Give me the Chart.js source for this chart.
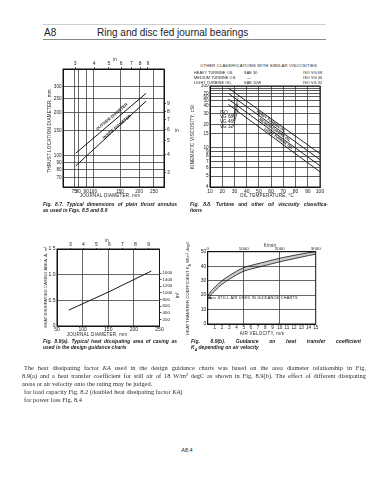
<!DOCTYPE html>
<html>
<head>
<meta charset="utf-8">
<script src="https://cdn.jsdelivr.net/npm/chart.js@4.4.1/dist/chart.umd.min.js"></script>
<style>
  html, body { margin: 0; padding: 0; background: #fff; }
  body { position: relative; width: 373px; height: 480px; overflow: hidden;
         font-family: "Liberation Sans", Arial, sans-serif; color: #222; }
  canvas { position: absolute; }
  .t { position: absolute; white-space: nowrap; line-height: 1; }
  .c { transform: translate(-50%, -50%); }
  .v { transform: translate(-50%, -50%) rotate(-90deg); }
  .m { transform: translateY(-50%); }
  .ttl { font-size: 4.5px; letter-spacing: 0.25px; }
  .hd { font-size: 3.8px; letter-spacing: 0.1px; }
  .cap { position: absolute; white-space: nowrap; font-weight: bold; font-style: italic;
         font-size: 5px; line-height: 1; }
  .j { text-align: justify; text-align-last: justify; }
  .body { position: absolute; white-space: nowrap; font-family: "Liberation Serif", serif;
          font-size: 6.4px; line-height: 1; color: #2e2e2e; }
  .rule { position: absolute; height: 1px; }
</style>
</head>
<body>

<div class="rule" style="left:43px;top:24px;width:283px;background:#cfcfcf"></div>
<div class="t m" style="left:44px;top:33px;font-size:10px">A8</div>
<div class="t m" style="left:97px;top:33px;font-size:10px">Ring and disc fed journal bearings</div>
<div class="rule" style="left:43px;top:39px;width:283px;background:#8a8a8a"></div>

<!-- Fig 8.7 -->
<canvas id="c1" width="124" height="137" style="left:48px;top:58px"></canvas>
<div class="t c ttl" style="left:115px;top:59.5px">in</div>
<div class="t c ttl" style="left:177px;top:131px">in</div>
<div class="t v ttl" style="left:50px;top:131px">THRUST LOCATION DIAMETER, mm</div>
<div class="t c ttl" style="left:110px;top:196px">JOURNAL DIAMETER, mm</div>
<div class="t c" style="left:112px;top:117px;font-size:4px;font-weight:bold;transform:translate(-50%,-50%) rotate(-40deg)">OUTSIDE DIAMETER</div>
<div class="t c" style="left:117px;top:127px;font-size:4px;font-weight:bold;transform:translate(-50%,-50%) rotate(-40deg)">INSIDE DIAMETER</div>
<div class="cap j" style="left:43px;top:201.5px;width:134px">Fig. 8.7. Typical dimensions of plain thrust annulus</div>
<div class="cap" style="left:43px;top:207.5px">as used in Figs. 8.5 and 8.6</div>

<!-- Fig 8.8 -->
<div class="t c" style="left:258.5px;top:66px;font-size:4.1px;letter-spacing:0.2px">OTHER CLASSIFICATIONS WITH SIMILAR VISCOSITIES</div>
<div class="t m hd" style="left:194px;top:74px">HEAVY TURBINE OIL</div>
<div class="t m hd" style="left:244px;top:74px">SAE 30</div>
<div class="t m hd" style="left:303px;top:74px">ISO VG 68</div>
<div class="t m hd" style="left:194px;top:79px">MEDIUM TURBINE OIL</div>
<div class="t m hd" style="left:247px;top:79px">—</div>
<div class="t m hd" style="left:303px;top:79px">ISO VG 46</div>
<div class="t m hd" style="left:194px;top:83.7px">LIGHT TURBINE OIL</div>
<div class="t m hd" style="left:244px;top:83.7px">SAE 10W</div>
<div class="t m hd" style="left:303px;top:83.7px">ISO VG 32</div>
<canvas id="c2" width="131" height="111" style="left:195px;top:84px"></canvas>
<div class="t m" style="left:220px;top:112.7px;font-size:4.6px">ISO</div>
<div class="t m" style="left:220px;top:117.3px;font-size:4.6px">VG 68</div>
<div class="t m" style="left:220px;top:122px;font-size:4.6px">VG 46</div>
<div class="t m" style="left:220px;top:126.7px;font-size:4.6px">VG 32</div>
<div class="t v ttl" style="left:193px;top:137px">KINEMATIC VISCOSITY, cSt</div>
<div class="t c ttl" style="left:267px;top:196px">OIL TEMPERATURE, °C</div>
<div class="cap j" style="left:190px;top:201.5px;width:138px">Fig. 8.8. Turbine and other oil viscosity classifica-</div>
<div class="cap" style="left:190px;top:207.5px">tions</div>

<!-- Fig 8.9(a) -->
<canvas id="c3" width="150" height="95" style="left:32px;top:240px"></canvas>
<div class="t c ttl" style="left:107px;top:241px">in</div>
<div class="t v ttl" style="left:178px;top:295px">in²</div>
<div class="t v" style="left:46px;top:287px;font-size:4px;letter-spacing:0.15px">HEAT DISSIPATING CASING AREA, A, m²</div>
<div class="t c ttl" style="left:97px;top:334.5px">JOURNAL DIAMETER, mm</div>
<div class="cap j" style="left:43px;top:338.5px;width:134px">Fig. 8.9(a). Typical heat dissipating area of casing as</div>
<div class="cap" style="left:43px;top:344.5px">used in the design guidance charts</div>

<!-- Fig 8.9(b) -->
<canvas id="c4" width="129" height="90" style="left:196px;top:244px"></canvas>
<div class="t c ttl" style="left:270px;top:245.5px">ft/min</div>
<div class="t v" style="left:189px;top:288px;font-size:4px;letter-spacing:0.15px">HEAT TRANSFER COEFFICIENT K<sub style="font-size:3px">A</sub> W/m² degC</div>
<div class="t c ttl" style="left:262px;top:333.5px">AIR VELOCITY, m/s</div>
<div class="cap j" style="left:191px;top:338.5px;width:170px">Fig. 8.9(b). Guidance on heat transfer coefficient</div>
<div class="cap" style="left:191px;top:344.5px">K<sub style="font-size:3.5px">A</sub> depending on air velocity</div>

<!-- text -->
<div class="body j" style="left:24px;top:365px;width:342px">The heat dissipating factor <i>KA</i> used in the design guidance charts was based on the area diameter relationship in Fig.</div>
<div class="body j" style="left:22px;top:373px;width:344px">8.9(a) and a heat transfer coefficient for still air of 18 W/m² degC as shown in Fig. 8.9(b). The effect of different dissipating</div>
<div class="body" style="left:22px;top:381px">areas or air velocity onto the rating may be judged.</div>
<div class="body" style="left:24px;top:389px">for load capacity Fig. 8.2 (doubled heat dissipating factor <i>KA</i>)</div>
<div class="body" style="left:24px;top:397px">for power loss Fig. 8.4</div>

<div class="t c" style="left:187px;top:451px;font-size:5.5px">A8.4</div>

<script>
// Fig. 8.7 - thrust annulus diameters against journal diameter (mm)
const f87Journal = [77, 222];
const f87Outside = [104, 271];
const f87Inside = [85, 239];
const f87XTicks = [75, 80, 90, 100, 150, 200, 250];
const f87YTicks = [70, 80, 90, 100, 150, 200, 250, 300];
const inchTicks = [3, 4, 5, 6, 7, 8, 9];

// Fig. 8.8 - viscosity grade lines (cSt) against oil temperature (degC)
const visTempTicks = [10, 20, 30, 40, 50, 60, 70, 80, 90, 100];
const visTicks = [4, 5, 6, 7, 8, 9, 10, 15, 20, 30, 40, 50, 60, 70, 80, 90, 100];
const visLabels = ['4', '5', '6', '7', '8', '9', '10', '15', '20', '30', '40', '50', '60', '70', '', '', '100'];
const gradeStartTemp = 25;
const gradeEndTemp = 100;
const gradeStartVisc = [90, 70, 54, 43];
const gradeEndVisc = [8.5, 7.3, 6.3, 5.5];
const bandNames = ['HEAVY TURBINE OIL', 'MEDIUM TURBINE OIL', 'LIGHT TURBINE OIL'];
const bandTextTemp = [60, 63, 66];
const leaderVisc = [26.5, 22.4, 18.9];

// Fig. 8.9(a) - casing area (m2) against journal diameter (mm)
const f89aJournal = [73, 150, 234];
const f89aArea = [0.31, 0.66, 1.07];
const f89aXTicks = [50, 100, 150, 200, 250];
const areaTicks = [0, 0.5, 1.0, 1.5];
const sqInTicks = [200, 400, 600, 800, 1000, 1200, 1400, 1600];

// Fig. 8.9(b) - heat transfer coefficient band against air velocity (m/s)
const airVel = [0, 0.5, 1, 2, 3, 4, 5, 6, 8, 10, 12, 14, 15];
const kUpper = [19.5, 23, 25.5, 30, 33.5, 36.5, 39, 40.5, 43, 45.5, 47.5, 49.3, 50];
const kLower = [17, 20.5, 23, 27.5, 31, 34, 36.5, 38, 40.5, 43, 45.2, 47.3, 48.3];
const velTicks = [1, 2, 3, 4, 5, 6, 7, 8, 9, 10, 11, 12, 13, 14, 15];
const ftMinTicks = [0, 1000, 2000, 3000];
const kTicks = [0, 10, 20, 30, 40, 50];
const stillAirK = 18;

Chart.defaults.font.family = '"Liberation Sans", Arial, sans-serif';
Chart.defaults.font.size = 5;
Chart.defaults.color = '#222';

const ink = '#151515';
const gridInk = '#404040';

// ASTM style viscosity axis
const T = v => Math.log10(Math.log10(v + 0.7));
const plain = v => String(v);

function fit(size) {
  return s => {
    if (s.isHorizontal()) s.height = size; else s.width = size;
    s.paddingLeft = s.paddingRight = s.paddingTop = s.paddingBottom = 0;
  };
}
function fixedTicks(values) {
  return s => { s.ticks = values.map(v => ({ value: v })); };
}
function mainGrid(color) {
  return { color: color || gridInk, lineWidth: 0.8, drawTicks: false };
}
function sideGrid(len) {
  return { drawOnChartArea: false, drawTicks: len > 0, tickLength: len, color: ink, lineWidth: 0.7 };
}
const border = { display: true, color: ink, width: 1 };
function tk(extra) {
  return Object.assign({ padding: 1.5, autoSkip: false, maxRotation: 0, minRotation: 0, callback: plain }, extra || {});
}

const frame = {
  id: 'frame',
  beforeDatasetsDraw(chart) {
    const a = chart.chartArea, c = chart.ctx;
    c.save();
    c.strokeStyle = ink;
    c.lineWidth = 1;
    c.strokeRect(a.left, a.top, a.right - a.left, a.bottom - a.top);
    c.restore();
  }
};

function common(padding) {
  return {
    responsive: false,
    animation: false,
    events: [],
    layout: { autoPadding: false, padding: padding || 0 },
    plugins: { legend: { display: false }, tooltip: { enabled: false } },
    elements: { point: { radius: 0 }, line: { borderWidth: 1, borderColor: ink } }
  };
}

// ---------- Fig. 8.7
new Chart(document.getElementById('c1'), {
  type: 'line',
  data: {
    datasets: [
      { data: f87Journal.map((x, i) => ({ x, y: f87Outside[i] })), borderColor: ink },
      { data: f87Journal.map((x, i) => ({ x, y: f87Inside[i] })), borderColor: ink }
    ]
  },
  options: Object.assign(common(), {
    scales: {
      x: { type: 'logarithmic', position: 'bottom', min: 63.5, max: 291,
           afterBuildTicks: fixedTicks(f87XTicks), afterFit: fit(8),
           ticks: tk({ font: { size: 4.6 } }), grid: mainGrid(), border },
      xin: { type: 'logarithmic', position: 'top', min: 63.5 / 25.4, max: 291 / 25.4,
             afterBuildTicks: fixedTicks(inchTicks), afterFit: fit(11),
             ticks: tk({ padding: 0 }), grid: sideGrid(2), border },
      y: { type: 'logarithmic', position: 'left', min: 60.6, max: 400,
           afterBuildTicks: fixedTicks(f87YTicks), afterFit: fit(15),
           ticks: tk({ font: { size: 4.6 } }), grid: mainGrid(), border },
      yin: { type: 'logarithmic', position: 'right', min: 60.6 / 25.4, max: 400 / 25.4,
             afterBuildTicks: fixedTicks(inchTicks), afterFit: fit(8),
             ticks: tk({ padding: 1 }), grid: sideGrid(2), border }
    }
  }),
  plugins: [frame]
});

// ---------- Fig. 8.8
const gradeAt = (i, t) => {
  const f = (t - gradeStartTemp) / (gradeEndTemp - gradeStartTemp);
  return T(gradeStartVisc[i]) + f * (T(gradeEndVisc[i]) - T(gradeStartVisc[i]));
};
const f88Notes = {
  id: 'f88Notes',
  afterDatasetsDraw(chart) {
    const { ctx, scales: { x, y } } = chart;
    const ang = Math.atan2(
      y.getPixelForValue(gradeAt(0, gradeEndTemp)) - y.getPixelForValue(gradeAt(0, gradeStartTemp)),
      x.getPixelForValue(gradeEndTemp) - x.getPixelForValue(gradeStartTemp));
    ctx.save();
    ctx.fillStyle = ink;
    ctx.font = 'bold 3.5px "Liberation Sans"';
    ctx.textAlign = 'center';
    ctx.textBaseline = 'middle';
    bandNames.forEach((name, i) => {
      const t = bandTextTemp[i];
      const px = x.getPixelForValue(t);
      const py = (y.getPixelForValue(gradeAt(i, t)) + y.getPixelForValue(gradeAt(i + 1, t))) / 2;
      ctx.save();
      ctx.translate(px, py);
      ctx.rotate(ang);
      ctx.fillText(name, 0, 0);
      ctx.restore();
    });
    ctx.strokeStyle = ink;
    ctx.lineWidth = 0.6;
    leaderVisc.forEach((v, i) => {
      const to = 33;
      const mid = (gradeAt(i, to) + gradeAt(i + 1, to)) / 2;
      ctx.beginPath();
      ctx.moveTo(x.getPixelForValue(29), y.getPixelForValue(T(v)));
      ctx.lineTo(x.getPixelForValue(to), y.getPixelForValue(mid));
      ctx.stroke();
    });
    ctx.restore();
  }
};
new Chart(document.getElementById('c2'), {
  type: 'line',
  data: {
    datasets: gradeStartVisc.map((v0, i) => ({
      data: [{ x: gradeStartTemp, y: T(v0) }, { x: gradeEndTemp, y: T(gradeEndVisc[i]) }],
      borderColor: ink, borderWidth: 0.9
    }))
  },
  options: Object.assign(common({ top: 2, right: 6 }), {
    scales: {
      x: { type: 'linear', min: 10, max: 100, afterBuildTicks: fixedTicks(visTempTicks),
           afterFit: fit(8), ticks: tk(), grid: mainGrid(), border },
      y: { type: 'linear', min: T(4), max: T(100),
           afterBuildTicks: s => { s.ticks = visTicks.map(v => ({ value: T(v) })); },
           afterFit: fit(15), ticks: tk({ callback: (v, i) => visLabels[i], font: { size: 4.6 } }),
           grid: mainGrid('#303030'), border }
    }
  }),
  plugins: [frame, f88Notes]
});

// ---------- Fig. 8.9(a)
new Chart(document.getElementById('c3'), {
  type: 'line',
  data: {
    datasets: [{ data: f89aJournal.map((x, i) => ({ x, y: f89aArea[i] })), borderColor: ink }]
  },
  options: Object.assign(common(), {
    scales: {
      x: { type: 'linear', position: 'bottom', min: 50, max: 250,
           afterBuildTicks: fixedTicks(f89aXTicks), afterFit: fit(9),
           ticks: tk({ padding: 0.5 }), grid: mainGrid(), border },
      xin: { type: 'linear', position: 'top', min: 50 / 25.4, max: 250 / 25.4,
             afterBuildTicks: fixedTicks(inchTicks), afterFit: fit(9),
             ticks: tk({ padding: 0 }), grid: sideGrid(1), border },
      y: { type: 'linear', position: 'left', min: 0, max: 1.5,
           afterBuildTicks: fixedTicks(areaTicks), afterFit: fit(25),
           ticks: tk({ callback: v => v === 0 ? '0' : v.toFixed(1) }), grid: mainGrid(), border },
      yin: { type: 'linear', position: 'right', min: 0, max: 1.5 * 1550,
             afterBuildTicks: fixedTicks(sqInTicks), afterFit: fit(22.5),
             ticks: tk({ padding: 1, font: { size: 4.4 } }), grid: sideGrid(2), border }
    }
  }),
  plugins: [frame]
});

// ---------- Fig. 8.9(b)
const stillAir = {
  id: 'stillAir',
  afterDatasetsDraw(chart) {
    const { ctx, scales: { x, y } } = chart;
    const py = y.getPixelForValue(stillAirK);
    const x0 = x.getPixelForValue(0.15), x1 = x.getPixelForValue(1.15);
    ctx.save();
    ctx.strokeStyle = ink;
    ctx.fillStyle = ink;
    ctx.lineWidth = 0.6;
    ctx.beginPath();
    ctx.moveTo(x0, py);
    ctx.lineTo(x1, py);
    ctx.stroke();
    ctx.beginPath();
    ctx.moveTo(x0, py);
    ctx.lineTo(x0 + 2.5, py - 1.2);
    ctx.lineTo(x0 + 2.5, py + 1.2);
    ctx.closePath();
    ctx.fill();
    ctx.font = '3.8px "Liberation Sans"';
    ctx.letterSpacing = '0.25px';
    ctx.textBaseline = 'middle';
    ctx.fillText('STILL AIR USED IN GUIDANCE CHARTS', x.getPixelForValue(1.4), py);
    ctx.restore();
  }
};
new Chart(document.getElementById('c4'), {
  type: 'line',
  data: {
    datasets: [
      { data: airVel.map((x, i) => ({ x, y: kLower[i] })), borderColor: ink, borderWidth: 0.8,
        cubicInterpolationMode: 'monotone', fill: false },
      { data: airVel.map((x, i) => ({ x, y: kUpper[i] })), borderColor: ink, borderWidth: 0.8,
        cubicInterpolationMode: 'monotone', fill: '-1', backgroundColor: 'rgba(0,0,0,0.2)' }
    ]
  },
  options: Object.assign(common({ right: 9.3 }), {
    scales: {
      x: { type: 'linear', position: 'bottom', min: 0, max: 15,
           afterBuildTicks: fixedTicks(velTicks), afterFit: fit(10),
           ticks: tk({ padding: 1, font: { size: 4.6 } }), border,
           grid: { drawTicks: false, lineWidth: 0.8,
                   color: c => (c.tick && (c.tick.value === 5 || c.tick.value === 10)) ? gridInk : 'rgba(0,0,0,0)' } },
      xft: { type: 'linear', position: 'top', min: 0, max: 3000,
             afterBuildTicks: fixedTicks(ftMinTicks), afterFit: fit(7.7),
             ticks: tk({ padding: 0, font: { size: 4.4 } }), grid: sideGrid(0), border },
      y: { type: 'linear', position: 'left', min: 0, max: 50,
           afterBuildTicks: fixedTicks(kTicks), afterFit: fit(11.7),
           ticks: tk(), grid: mainGrid(), border }
    }
  }),
  plugins: [frame, stillAir]
});
</script>
</body>
</html>
